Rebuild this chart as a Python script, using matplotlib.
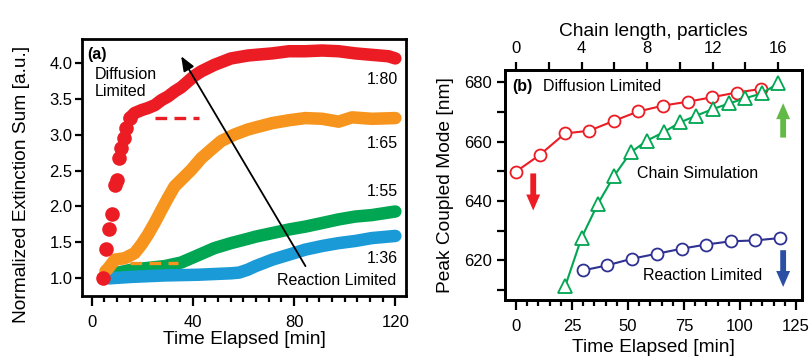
import matplotlib
matplotlib.use("Agg")
import matplotlib.pyplot as plt
from matplotlib.ticker import MultipleLocator, FormatStrFormatter

plt.rcParams['font.family'] = ['Liberation Sans', 'DejaVu Sans']

# ---------------- Panel (a) data ----------------
red_dots_t = [4.4, 5.9, 6.8, 7.9, 9.2, 10.2, 10.8, 11.8, 12.9, 13.8, 15.1]
red_dots_v = [1.00, 1.41, 1.68, 1.89, 2.30, 2.37, 2.67, 2.81, 2.95, 3.09, 3.23]
red_t = [15.1, 17.0, 19.7, 22.3, 25.0, 27.6, 30.2, 32.8, 35.5, 38.1, 40.7, 43.3,
         48.5, 55.1, 61.7, 64.8, 71.4, 78.0, 84.5, 91.1, 97.6, 104.2, 110.7, 117.3, 120.0]
red_v = [3.23, 3.30, 3.34, 3.37, 3.41, 3.48, 3.53, 3.60, 3.66, 3.74, 3.82, 3.88,
         3.97, 4.06, 4.10, 4.11, 4.13, 4.16, 4.16, 4.17, 4.16, 4.13, 4.11, 4.09, 4.06]
orange_t = [5.5, 6.6, 9.2, 13.1, 17.0, 19.7, 22.3, 24.9, 27.6, 30.2, 32.8, 35.4, 39.4,
            43.3, 47.2, 51.2, 56.4, 61.7, 64.8, 71.4, 78.0, 84.5, 91.1, 97.6, 102.9, 110.7, 120.0]
orange_v = [1.10, 1.14, 1.26, 1.28, 1.35, 1.47, 1.61, 1.77, 1.95, 2.12, 2.28, 2.37, 2.51,
            2.67, 2.79, 2.91, 3.00, 3.07, 3.10, 3.16, 3.20, 3.23, 3.22, 3.18, 3.24, 3.22, 3.23]
green_t = [6.6, 15.7, 28.9, 35.4, 42.0, 48.5, 55.1, 61.7, 64.8, 71.4, 78.0, 84.5,
           91.1, 97.6, 104.2, 110.7, 120.0]
green_v = [1.05, 1.12, 1.17, 1.22, 1.32, 1.42, 1.49, 1.55, 1.58, 1.63, 1.68, 1.72,
           1.77, 1.82, 1.86, 1.88, 1.93]
blue_t = [7.0, 15.7, 28.9, 42.0, 55.1, 58.3, 61.7, 64.8, 71.4, 78.0, 84.5, 91.1,
          97.6, 104.2, 110.7, 120.0]
blue_v = [1.00, 1.02, 1.04, 1.05, 1.07, 1.08, 1.12, 1.17, 1.26, 1.33, 1.40, 1.45,
          1.49, 1.52, 1.56, 1.59]
red_dash_t = [25.0, 42.6]
red_dash_v = [3.23, 3.23]
orange_dash_t = [15.0, 34.0]
orange_dash_v = [1.21, 1.21]
ratio_labels = ["1:80", "1:65", "1:55", "1:36"]
ratio_label_v = [3.76, 2.88, 2.21, 1.28]

# ---------------- Panel (b) data ----------------
diff_t = [0, 10.7, 21.9, 32.7, 43.9, 54.6, 65.8, 76.7, 87.5, 98.5, 109.4]
diff_v = [649.9, 655.6, 662.8, 663.7, 667.1, 670.2, 672.2, 673.5, 675.0, 676.6, 677.8]
react_t = [30.0, 40.8, 51.6, 62.8, 74.0, 84.8, 95.8, 106.7, 117.9]
react_v = [616.6, 618.3, 620.5, 622.2, 623.9, 625.3, 626.4, 626.7, 627.5]
chain_n = [3, 4, 5, 6, 7, 8, 9, 10, 11, 12, 13, 14, 15, 16]
chain_v = [611.2, 627.6, 639.1, 648.6, 656.4, 660.4, 663.2, 666.5, 668.8,
           671.0, 672.9, 674.7, 676.3, 679.7]

C_RED = '#ec1c24'
C_ORANGE = '#f7941d'
C_GREEN = '#00a651'
C_BLUE = '#1b9ad8'
C_NAVY = '#2e3192'

fig = plt.figure(figsize=(8.11, 3.56), dpi=100)
axa = fig.add_axes([0.1007, 0.1685, 0.4005, 0.7233])
axb = fig.add_axes([0.6227, 0.1573, 0.3656, 0.6461])

TICK_FS = 12
LAB_FS = 13.8
ANN_FS = 11.5
LW = 9.0

# ---------- panel (a) ----------
axa.plot(green_t, green_v, '-', color=C_GREEN, lw=LW, solid_capstyle='round',
         solid_joinstyle='round', zorder=2)
axa.plot(blue_t, blue_v, '-', color=C_BLUE, lw=LW, solid_capstyle='round',
         solid_joinstyle='round', zorder=3)
axa.plot(orange_dash_t, orange_dash_v, color=C_ORANGE, lw=2.4, dashes=(3.5, 2.2), zorder=3.5)
axa.plot(orange_t, orange_v, '-', color=C_ORANGE, lw=LW, solid_capstyle='round',
         solid_joinstyle='round', zorder=4)
axa.plot(red_t, red_v, '-', color=C_RED, lw=LW, solid_capstyle='round',
         solid_joinstyle='round', zorder=5)
axa.plot(red_dots_t, red_dots_v, 'o', color=C_RED, ms=10.5, mew=0, zorder=5)
axa.plot(red_dash_t, red_dash_v, color=C_RED, lw=2.4, dashes=(3.5, 2.2), zorder=5)

axa.annotate('', xy=(35.4, 4.09), xytext=(84.5, 1.17),
             arrowprops=dict(arrowstyle='-|>,head_length=0.55,head_width=0.22',
                             mutation_scale=16, lw=1.3, color='black',
                             shrinkA=0, shrinkB=0), zorder=6)

axa.text(-1.7, 4.11, '(a)', fontsize=ANN_FS, fontweight='bold', va='center', ha='left')
axa.text(1.1, 3.72, 'Diffusion\nLimited', fontsize=ANN_FS, va='center', ha='left',
         linespacing=1.2)
for lab, v in zip(ratio_labels, ratio_label_v):
    axa.text(121.2, v, lab, fontsize=ANN_FS, va='center', ha='right')
axa.text(120.3, 0.975, 'Reaction Limited', fontsize=ANN_FS, va='center', ha='right')

axa.set_xlim(-3.9, 124.4)
axa.set_ylim(0.754, 4.337)
axa.set_xticks([0, 40, 80, 120])
axa.xaxis.set_minor_locator(MultipleLocator(5))
axa.set_yticks([1.0, 1.5, 2.0, 2.5, 3.0, 3.5, 4.0])
axa.yaxis.set_major_formatter(FormatStrFormatter('%.1f'))
axa.tick_params(axis='x', which='major', direction='out', length=7, width=1.6,
                pad=6.5, labelsize=TICK_FS)
axa.tick_params(axis='x', which='minor', direction='out', length=4, width=1.6)
axa.tick_params(axis='y', which='major', direction='out', length=5, width=1.6,
                pad=1.5, labelsize=TICK_FS)
axa.set_xlabel('Time Elapsed [min]', fontsize=LAB_FS, labelpad=1)
axa.set_ylabel('Normalized Extinction Sum [a.u.]', fontsize=LAB_FS, labelpad=6.5)
axa.yaxis.set_label_coords(-0.158, 0.434)
for sp in axa.spines.values():
    sp.set_linewidth(2.0)

# ---------- panel (b) ----------
axb.plot(diff_t, diff_v, '-o', color=C_RED, lw=1.5, ms=8.6, mfc='white', mec=C_RED,
         mew=1.3, zorder=3)
axb.plot(react_t, react_v, '-o', color=C_NAVY, lw=1.5, ms=8.6, mfc='white', mec=C_NAVY,
         mew=1.3, zorder=3)

axt = axb.twiny()
axt.plot(chain_n, chain_v, '-^', color=C_GREEN, lw=1.5, ms=10.5, mfc='white',
         mec=C_GREEN, mew=1.3, zorder=4)

arrow_style = 'simple,head_length=1.15,head_width=1.0,tail_width=0.42'
axb.annotate('', xy=(7.7, 636.8), xytext=(7.7, 649.3),
             arrowprops=dict(arrowstyle=arrow_style, mutation_scale=10, color='#ed1c24',
                             lw=0, shrinkA=0, shrinkB=0))
axb.annotate('', xy=(119.3, 673.0), xytext=(119.3, 661.4),
             arrowprops=dict(arrowstyle=arrow_style, mutation_scale=10, color='#62b946',
                             lw=0, shrinkA=0, shrinkB=0))
axb.annotate('', xy=(119.3, 611.0), xytext=(119.3, 623.4),
             arrowprops=dict(arrowstyle=arrow_style, mutation_scale=10, color='#2a4fa3',
                             lw=0, shrinkA=0, shrinkB=0))

axb.text(-1.6, 678.6, '(b)', fontsize=ANN_FS, fontweight='bold', va='center', ha='left')
axb.text(11.9, 678.6, 'Diffusion Limited', fontsize=ANN_FS, va='center', ha='left')
axb.text(53.9, 649.2, 'Chain Simulation', fontsize=ANN_FS, va='center', ha='left')
axb.text(56.8, 614.9, 'Reaction Limited', fontsize=ANN_FS, va='center', ha='left')

axb.set_xlim(-4.9, 127.5)
axb.set_ylim(606.6, 684.2)
axt.set_xlim(-0.67, 17.42)
axb.set_xticks([0, 25, 50, 75, 100, 125])
axb.xaxis.set_minor_locator(MultipleLocator(5))
axb.set_yticks([620, 640, 660, 680])
axb.yaxis.set_minor_locator(MultipleLocator(10))
axt.set_xticks([0, 4, 8, 12, 16])
axt.xaxis.set_minor_locator(MultipleLocator(2))

axb.tick_params(axis='x', which='major', direction='out', length=7, width=1.6,
                pad=6.5, labelsize=TICK_FS)
axb.tick_params(axis='x', which='minor', direction='out', length=4, width=1.6)
axb.tick_params(axis='y', which='major', direction='out', length=6, width=1.6,
                pad=3.5, labelsize=TICK_FS)
axb.tick_params(axis='y', which='minor', direction='out', length=6, width=1.6)
axt.tick_params(axis='x', which='major', direction='out', length=6, width=1.6,
                pad=4.0, labelsize=TICK_FS)
axt.tick_params(axis='x', which='minor', direction='out', length=6, width=1.6)

axb.set_xlabel('Time Elapsed [min]', fontsize=LAB_FS, labelpad=3.5)
axb.set_ylabel('Peak Coupled Mode [nm]', fontsize=LAB_FS, labelpad=7)
axt.set_xlabel('Chain length, particles', fontsize=LAB_FS, labelpad=3.6)
for sp in list(axb.spines.values()) + list(axt.spines.values()):
    sp.set_linewidth(2.0)

fig.savefig('out.png', dpi=100)
